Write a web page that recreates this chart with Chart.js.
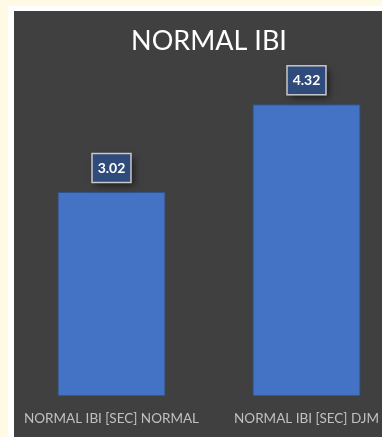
<!DOCTYPE html>
<html>
<head>
<meta charset="utf-8">
<script src="https://cdn.jsdelivr.net/npm/chart.js@4"></script>
<style>
  html, body { margin: 0; padding: 0; }
  body { width: 382px; height: 437px; overflow: hidden; background: #fffae6; position: relative; }
  #frame { position: absolute; left: 8px; top: 6px; width: 420px; height: 460px; background: #ffffff; }
  #panel { position: absolute; left: 14px; top: 11px; width: 390px; height: 426px; background: #404040; }
  canvas { display: block; }
</style>
</head>
<body>
<div id="frame"></div>
<div id="panel"><canvas id="myChart" width="390" height="426"></canvas></div>
<script>
// data
const categories = ['NORMAL IBI [SEC] NORMAL', 'NORMAL IBI [SEC] DJM'];
const ibiValues = [3.02, 4.32];
const chartTitle = 'NORMAL IBI';

// boxed value labels above each bar
const valueBoxes = {
    id: 'valueBoxes',
    afterDatasetsDraw(chart) {
        const c = chart.ctx;
        const meta = chart.getDatasetMeta(0);
        meta.data.forEach((bar, i) => {
            const txt = ibiValues[i].toFixed(2);
            const w = 39, h = 29;
            const cx = bar.x, cy = bar.y - 24;
            c.save();
            c.shadowColor = 'rgba(0,0,0,0.55)';
            c.shadowBlur = 7;
            c.shadowOffsetX = 3;
            c.shadowOffsetY = 3;
            c.fillStyle = '#2f4b7c';
            c.fillRect(cx - w / 2, cy - h / 2, w, h);
            c.restore();
            c.save();
            c.strokeStyle = '#c8c8c8';
            c.lineWidth = 1.5;
            c.strokeRect(cx - w / 2, cy - h / 2, w, h);
            c.fillStyle = '#ffffff';
            c.font = 'bold 14px Lato';
            c.textAlign = 'center';
            c.textBaseline = 'middle';
            c.fillText(txt, cx, cy + 0.5);
            c.restore();
        });
    }
};

const ctx = document.getElementById('myChart').getContext('2d');
const myChart = new Chart(ctx, {
    type: 'bar',
    data: {
        labels: categories,
        datasets: [{
            label: chartTitle,
            data: ibiValues,
            backgroundColor: '#4472c4',
            borderColor: '#2f528f',
            borderWidth: 1,
            categoryPercentage: 1,
            barPercentage: 0.554
        }]
    },
    options: {
        responsive: false,
        animation: false,
        layout: { autoPadding: false, padding: { left: 0, right: 0, top: 0, bottom: 3 } },
        plugins: {
            legend: { display: false },
            tooltip: { enabled: false },
            title: {
                display: true,
                text: chartTitle,
                color: '#ffffff',
                font: { family: 'Lato', size: 27, weight: 'normal' },
                padding: { top: 14, bottom: 1 }
            }
        },
        scales: {
            x: {
                grid: { display: false },
                border: { display: false },
                ticks: {
                    color: '#c0c0c0',
                    font: { family: 'Lato', size: 13.5 },
                    padding: 7,
                    maxRotation: 0,
                    autoSkip: false
                }
            },
            y: {
                display: false,
                min: 0,
                max: 5
            }
        }
    },
    plugins: [valueBoxes]
});
</script>
</body>
</html>
